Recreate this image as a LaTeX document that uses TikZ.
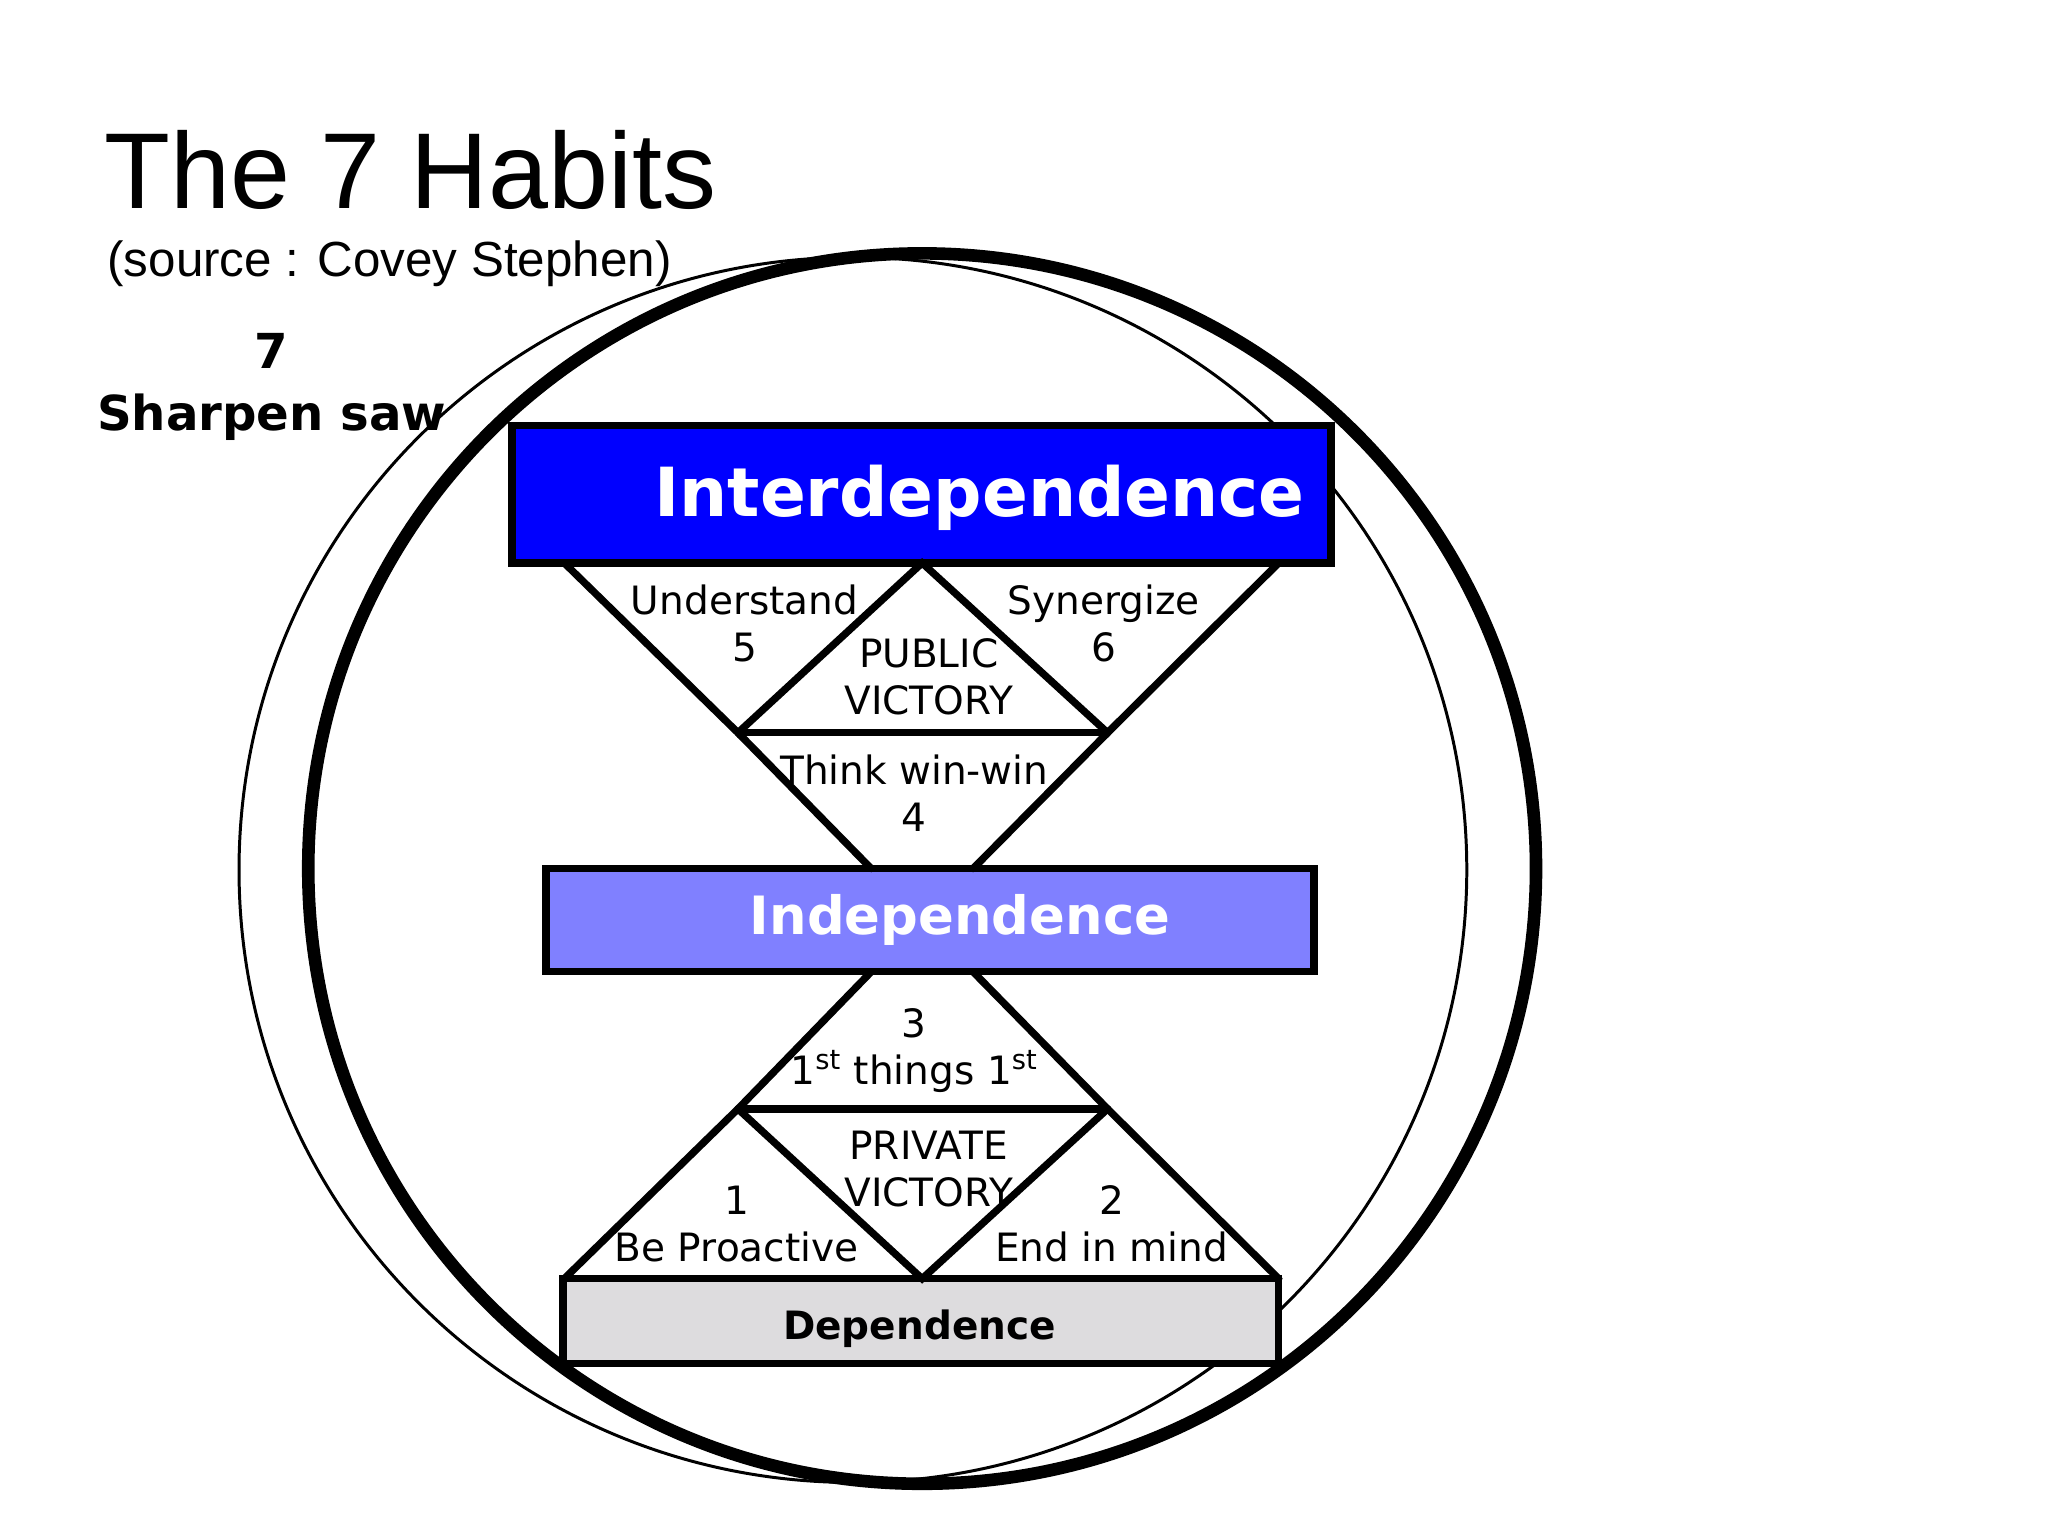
\documentclass[tikz,border=0pt]{standalone}
\usepackage{fontspec}
\setmainfont{DejaVu Sans}
\newfontfamily\arialf{Liberation Sans}
\definecolor{interblue}{RGB}{0,0,255}
\definecolor{indblue}{RGB}{128,128,255}
\definecolor{depgray}{RGB}{221,220,222}
\begin{document}
\begin{tikzpicture}[x=0.02cm,y=-0.02cm,
  ln/.style={line width=3.2pt,line cap=round},
  lbl/.style={font=\fontsize{17}{20.5}\selectfont,align=center,inner sep=0pt},
  bx/.style={draw=black,line width=3.2pt}]
\useasboundingbox (0,0) rectangle (1568,1176);
% circles
\draw[line width=1.3pt] (653,666) ellipse [x radius=470,y radius=469];
\draw[line width=5.5pt] (706,665) ellipse [x radius=470,y radius=471];
% title
\node[anchor=base west,inner sep=0pt,font=\arialf\fontsize{47}{50}\selectfont] (title) at (80,160) {The 7 Habits};
\node[anchor=base west,inner sep=0pt,font=\arialf\fontsize{21.5}{24}\selectfont] (src) at (82,212) {(source : Covey Stephen)};
\node[align=center,inner sep=0pt,font=\bfseries\fontsize{21}{27}\selectfont] (seven) at (208,296) {7\\Sharpen saw};
% boxes
\fill[interblue] (392,326) rectangle (1019,431);
\draw[bx] (392,326) rectangle (1019,431);
\node[text=white,font=\bfseries\fontsize{29.5}{32}\selectfont,inner sep=0pt] (intert) at (750,381) {Interdependence};
\fill[indblue] (418,665) rectangle (1006,744);
\draw[bx] (418,665) rectangle (1006,744);
\node[text=white,font=\bfseries\fontsize{23}{26}\selectfont,inner sep=0pt] (indt) at (735,704) {Independence};
\fill[depgray] (431,979) rectangle (979,1044);
\draw[bx] (431,979) rectangle (979,1044);
\node[font=\bfseries\fontsize{17}{20}\selectfont,inner sep=0pt] (dept) at (704,1017) {Dependence};
% coordinates
\coordinate (a1) at (432,431); \coordinate (a2) at (706,431); \coordinate (a3) at (979,431);
\coordinate (b1) at (565,561); \coordinate (b2) at (848,561);
\coordinate (c1) at (667,665); \coordinate (c2) at (745,665);
\coordinate (d1) at (667,744); \coordinate (d2) at (745,744);
\coordinate (e1) at (565,849); \coordinate (e2) at (848,849);
\coordinate (f1) at (432,979); \coordinate (f2) at (706,979); \coordinate (f3) at (979,979);
\draw[ln] (a1)--(b1)--(a2)--(b2)--(a3);
\draw[ln] (b1)--(b2);
\draw[ln] (b1)--(c1); \draw[ln] (b2)--(c2);
\draw[ln] (d1)--(e1)--(f1); \draw[ln] (d2)--(e2)--(f3);
\draw[ln] (e1)--(e2); \draw[ln] (e1)--(f2)--(e2);
\draw[ln] (f1)--(f3);
% labels
\node[lbl] (l5) at (570,477) {Understand\\5};
\node[lbl] (l6) at (845,477) {Synergize\\6};
\node[lbl] (lpub) at (711,518) {PUBLIC\\VICTORY};
\node[lbl] (l4) at (700,607) {Think win-win\\4};
\node[lbl] (l3) at (700,804) {3\\1\textsuperscript{st} things 1\textsuperscript{st}};
\node[lbl] (lpriv) at (711,895) {PRIVATE\\VICTORY};
\node[lbl] (l1) at (564,937) {1\\Be Proactive};
\node[lbl] (l2) at (851,937) {2\\End in mind};
\end{tikzpicture}
\end{document}
